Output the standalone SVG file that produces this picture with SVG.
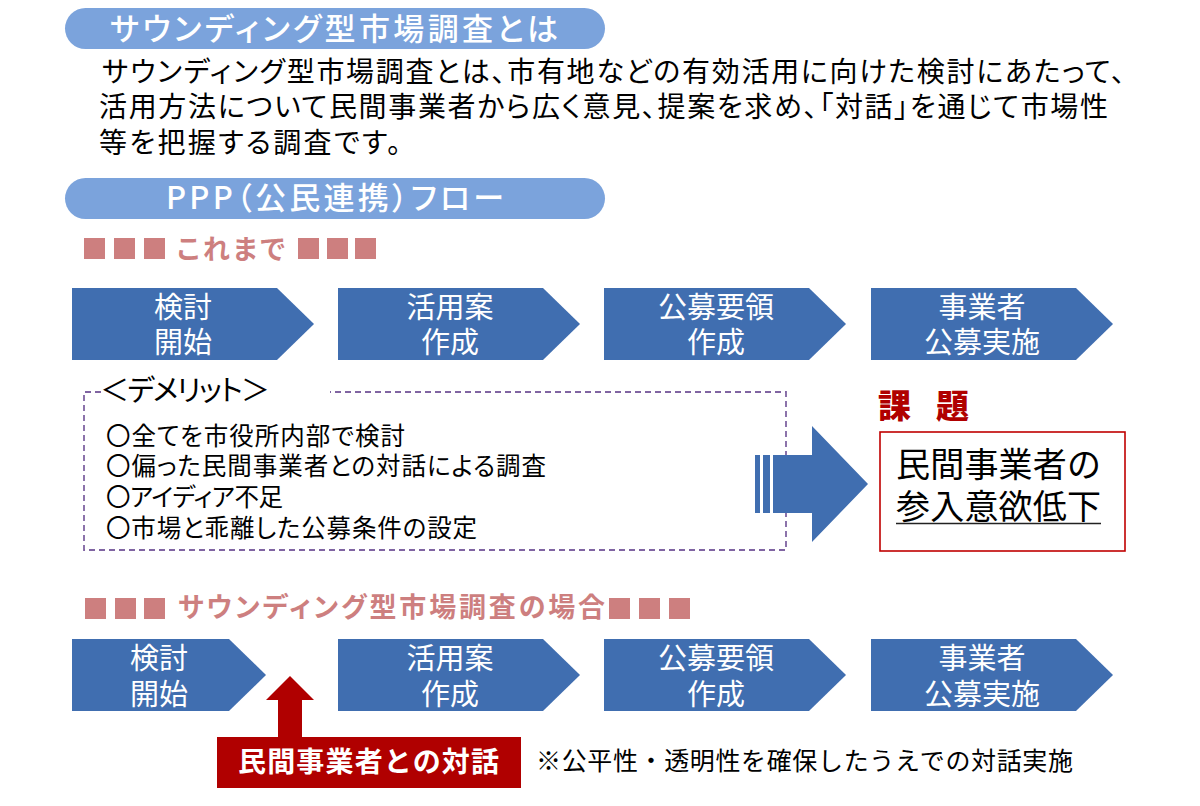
<svg xmlns="http://www.w3.org/2000/svg" width="1200" height="806" viewBox="0 0 1200 806">
<style>
text{font-family:"Noto Sans CJK JP","Noto Sans",sans-serif;fill:#000;font-feature-settings:"palt"}
.pill{fill:#7ba3dc}
.pt{fill:#fff;font-size:31px;font-weight:500}
.body{font-size:28px}
.sq{fill:#cd7f7f}
.hd{fill:#cd7f7f;font-size:27px;font-weight:700}
.step{fill:#406eb0}
.st{fill:#fff;font-size:29px;text-anchor:middle;font-feature-settings:normal}
.li{font-size:24.5px}
</style>
<rect width="1200" height="806" fill="#fff"/>
<g id="title1"><rect class="pill" x="65" y="8" width="540" height="41" rx="20.5"/><text class="pt" x="110" y="40" textLength="448" lengthAdjust="spacing">サウンディング型市場調査とは</text></g>
<g id="intro">
<text class="body"><tspan x="102" y="82" textLength="1023">サウンディング型市場調査とは、市有地などの有効活用に向けた検討にあたって、</tspan><tspan x="99" y="117" textLength="1009">活用方法について民間事業者から広く意見、提案を求め、「対話」を通じて市場性</tspan><tspan x="99" y="153" textLength="302">等を把握する調査です。</tspan></text>
</g>
<g id="title2"><rect class="pill" x="65" y="178" width="540" height="41" rx="20.5"/><text class="pt" x="166" y="209" textLength="338">PPP（公民連携）フロー</text></g>
<g id="heading1">
<rect class="sq" x="84" y="238" width="21" height="21"/><rect class="sq" x="114" y="238" width="21" height="21"/><rect class="sq" x="144" y="238" width="21" height="21"/>
<text class="hd" x="177" y="259" textLength="108">これまで</text>
<rect class="sq" x="298" y="238" width="21" height="21"/><rect class="sq" x="327" y="238" width="21" height="21"/><rect class="sq" x="355" y="238" width="21" height="21"/>
</g>
<g id="a1"><polygon class="step" points="72,288 277,288 314,324 277,360 72,360"/><text class="st"><tspan x="183" y="318">検討</tspan><tspan x="183" y="353">開始</tspan></text></g>
<g id="a2"><polygon class="step" points="338,288 543,288 580,324 543,360 338,360"/><text class="st"><tspan x="450" y="318">活用案</tspan><tspan x="450" y="353">作成</tspan></text></g>
<g id="a3"><polygon class="step" points="604,288 809,288 846,324 809,360 604,360"/><text class="st"><tspan x="716" y="318">公募要領</tspan><tspan x="716" y="353">作成</tspan></text></g>
<g id="a4"><polygon class="step" points="871,288 1076,288 1113,324 1076,360 871,360"/><text class="st"><tspan x="982" y="318">事業者</tspan><tspan x="982" y="353">公募実施</tspan></text></g>
<g id="demerit">
<path d="M101,392H84V550H786V392H330" fill="none" stroke="#8064a2" stroke-width="1.8" stroke-dasharray="6 4"/>
<text x="100" y="401" font-size="29" textLength="170">＜デメリット＞</text>
<text class="li"><tspan x="106" y="445" textLength="299">〇全てを市役所内部で検討</tspan><tspan x="106" y="475" textLength="440">〇偏った民間事業者との対話による調査</tspan><tspan x="106" y="506" textLength="177">〇アイディア不足</tspan><tspan x="106" y="537" textLength="371">〇市場と乖離した公募条件の設定</tspan></text>
</g>
<g id="bigarrow" fill="#406eb0">
<rect x="755" y="455" width="5" height="58"/><rect x="763" y="455" width="7" height="58"/>
<polygon points="773,455 812,455 812,426 868,484 812,542 812,513 773,513"/>
</g>
<g id="issue">
<text x="878" y="418" font-size="33" font-weight="900" style="fill:#b00000;font-feature-settings:normal" textLength="91">課　題</text>
<rect x="880" y="432" width="245" height="119" fill="#fff" stroke="#c00000" stroke-width="1.6"/>
<text font-size="34" style="font-feature-settings:normal"><tspan x="896" y="477" textLength="205">民間事業者の</tspan><tspan x="896" y="519" textLength="205">参入意欲低下</tspan></text>
<line x1="896" y1="523.5" x2="1101" y2="523.5" stroke="#222" stroke-width="1.6"/>
</g>
<g id="heading2">
<rect class="sq" x="85" y="598" width="21" height="21"/><rect class="sq" x="115" y="598" width="21" height="21"/><rect class="sq" x="144" y="598" width="21" height="21"/>
<text class="hd" x="178" y="617" textLength="427">サウンディング型市場調査の場合</text>
<rect class="sq" x="609" y="598" width="21" height="21"/><rect class="sq" x="639" y="598" width="21" height="21"/><rect class="sq" x="669" y="598" width="21" height="21"/>
</g>
<g id="b1"><polygon class="step" points="72,639 229,639 266,675 229,711 72,711"/><text class="st"><tspan x="159" y="669">検討</tspan><tspan x="159" y="705">開始</tspan></text></g>
<g id="b2"><polygon class="step" points="338,639 543,639 580,675 543,711 338,711"/><text class="st"><tspan x="450" y="669">活用案</tspan><tspan x="450" y="705">作成</tspan></text></g>
<g id="b3"><polygon class="step" points="604,639 809,639 846,675 809,711 604,711"/><text class="st"><tspan x="716" y="669">公募要領</tspan><tspan x="716" y="705">作成</tspan></text></g>
<g id="b4"><polygon class="step" points="871,639 1076,639 1113,675 1076,711 871,711"/><text class="st"><tspan x="982" y="669">事業者</tspan><tspan x="982" y="705">公募実施</tspan></text></g>
<g id="connectors"><polygon points="290,676 314,700 302,700 302,737 278,737 278,700 266,700" fill="#b00000"/></g>
<g id="dialog"><rect x="217" y="737" width="304" height="51" fill="#b00000"/><text x="238" y="772" font-size="28" font-weight="700" textLength="261" style="fill:#fff;font-feature-settings:normal">民間事業者との対話</text></g>
<g id="note"><text x="536" y="770" font-size="25" textLength="537" style="font-feature-settings:normal">※公平性・透明性を確保したうえでの対話実施</text></g>
</svg>
